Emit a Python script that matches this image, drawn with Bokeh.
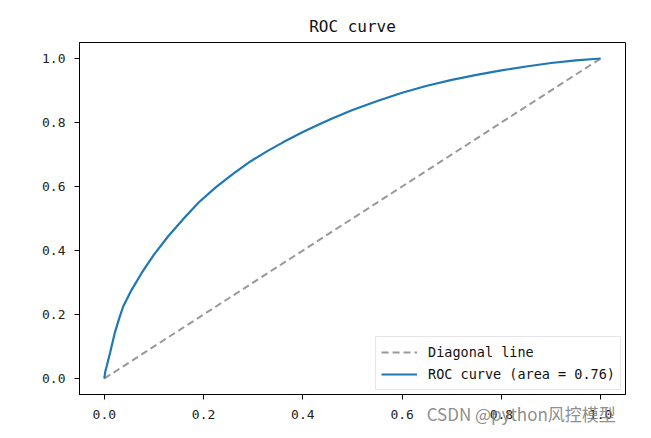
from bokeh.plotting import figure
from bokeh.models import Range1d, FixedTicker, Legend, LegendItem, LinearAxis
from bokeh.embed import file_html
from bokeh.resources import INLINE

fpr = [0.0, 0.002, 0.005, 0.0115, 0.0215, 0.03, 0.038, 0.055, 0.075, 0.1, 0.13, 0.16,
       0.19, 0.225, 0.26, 0.295, 0.33, 0.36, 0.4, 0.43, 0.46, 0.5, 0.55, 0.6, 0.65,
       0.7, 0.75, 0.8, 0.85, 0.9, 0.95, 1.0]
tpr = [0.0, 0.022, 0.04, 0.08, 0.145, 0.188, 0.225, 0.277, 0.329, 0.387, 0.447, 0.50,
       0.55, 0.598, 0.64, 0.679, 0.712, 0.738, 0.770, 0.792, 0.813, 0.839, 0.867, 0.893,
       0.915, 0.933, 0.949, 0.963, 0.975, 0.986, 0.994, 1.0]
diag_x = [0.0, 1.0]
diag_y = [0.0, 1.0]
ticks = [0.0, 0.2, 0.4, 0.6, 0.8, 1.0]
tick_labels = ["0.0", "0.2", "0.4", "0.6", "0.8", "1.0"]
title_text = "ROC curve"
diag_label = "Diagonal line"
roc_label = "ROC curve (area = 0.76)"
watermark = "CSDN @python风控模型"
watermark_pos = 0.84

FONT = "DejaVu Sans Mono"

p = figure(width=651, height=438, output_backend="svg", toolbar_location=None,
           x_range=Range1d(-0.05, 1.05), y_range=Range1d(-0.05, 1.05),
           min_border_left=79, min_border_right=26, min_border_top=42, min_border_bottom=44)
p.title.text = title_text
p.title.align = "center"
p.title.text_font = FONT
p.title.text_font_size = "16px"
p.title.text_font_style = "normal"
p.title.text_color = "#111111"
p.title.offset = 0
p.title.standoff = 14

p.xgrid.visible = False
p.ygrid.visible = False
p.outline_line_color = "black"
p.outline_line_alpha = 1.0
p.outline_line_width = 1
p.background_fill_color = "white"
p.border_fill_color = "white"

for ax in (p.xaxis[0], p.yaxis[0]):
    ax.ticker = FixedTicker(ticks=ticks)
    ax.major_label_overrides = {t: l for t, l in zip(ticks, tick_labels)}
    ax.major_label_text_font = FONT
    ax.major_label_text_font_size = "13px"
    ax.major_label_text_color = "#222222"
    ax.minor_tick_line_color = None
    ax.major_tick_out = 5
    ax.major_tick_in = 0
    ax.axis_line_color = "black"
    ax.major_tick_line_color = "black"
p.xaxis[0].major_label_standoff = 10
p.yaxis[0].major_label_standoff = 9

# watermark drawn as a tick label of a bare extra axis
wm_axis = LinearAxis(ticker=FixedTicker(ticks=[watermark_pos]),
                     major_label_overrides={watermark_pos: watermark})
wm_axis.axis_line_color = None
wm_axis.major_tick_line_color = None
wm_axis.minor_tick_line_color = None
wm_axis.major_tick_out = 0
wm_axis.major_label_standoff = -21
wm_axis.major_label_text_font = "Noto Sans CJK SC"
wm_axis.major_label_text_font_size = "17px"
wm_axis.major_label_text_color = "#808080"
wm_axis.major_label_text_alpha = 0.9
p.add_layout(wm_axis, "below")

r_diag = p.line(diag_x, diag_y, line_color="#999999", line_width=2, line_dash="7 4")
r_roc = p.line(fpr, tpr, line_color="#1f77b4", line_width=2.2)

legend = Legend(items=[LegendItem(label=diag_label, renderers=[r_diag]),
                       LegendItem(label=roc_label, renderers=[r_roc])],
                location="bottom_right")
legend.label_text_font = FONT
legend.label_text_font_size = "13.5px"
legend.label_text_color = "#111111"
legend.glyph_width = 36
legend.glyph_height = 20
legend.label_height = 20
legend.label_standoff = 11
legend.spacing = 2
legend.padding = 5
legend.margin = 4
legend.border_line_color = "#cccccc"
legend.border_line_width = 1
legend.background_fill_alpha = 0.8
p.add_layout(legend, "center")

open("out.html", "w").write(file_html(p, INLINE))
